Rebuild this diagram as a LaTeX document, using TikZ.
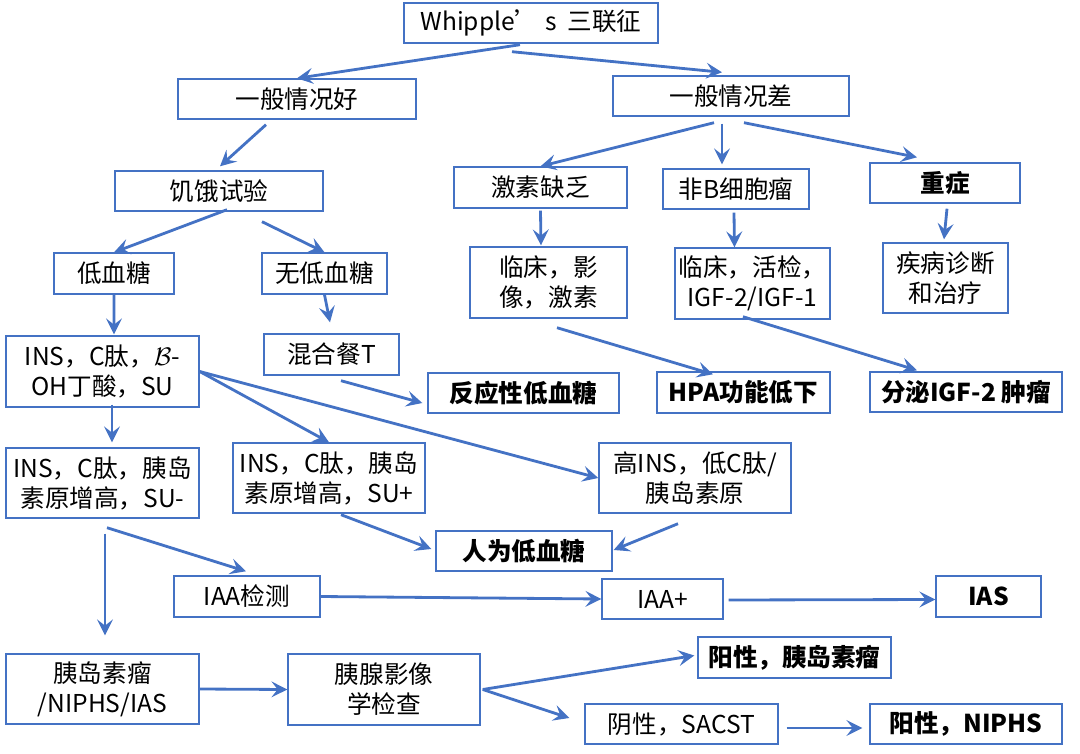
\documentclass[tikz,border=0pt]{standalone}
\usepackage{fontspec}
\setmainfont{Noto Sans CJK SC}
\usetikzlibrary{arrows.meta,calc}
\definecolor{lineblue}{HTML}{4472C4}
\tikzset{Box/.style={draw=lineblue,line width=0.8pt,inner sep=0pt,align=center,font=\fontsize{14}{17}\selectfont},
  Bold/.style={Box,font=\fontsize{14}{17}\selectfont\bfseries},
  sz/.style 2 args={minimum width=#1*0.02cm,minimum height=#2*0.02cm},
  Arr/.style={draw=lineblue,line width=1.6pt,-{Stealth[length=9pt,width=9pt,inset=3.5pt]}}}

\begin{document}
\begin{tikzpicture}[x=0.02cm,y=-0.02cm]
    \useasboundingbox (0,0) rectangle (1080,754);
    % top levels
    \node[Box,sz={254}{40}] (whip) at (531,23) {Whipple’ s \ 三联征};
    \node[Box,sz={238}{40}] (good) at (297,99) {一般情况好};
    \node[Box,sz={236}{40}] (poor) at (731,96) {一般情况差};
    \node[Box,sz={208}{40}] (fast) at (219,191) {饥饿试验};
    \node[Box,sz={173}{41}] (horm) at (540.5,187.5) {激素缺乏};
    \node[Box,sz={146}{40}] (nonb) at (736,189) {非B细胞瘤};
    \node[Bold,sz={150}{40}] (severe) at (945,183) {重症};
    \node[Box,sz={120}{41}] (hypo) at (114,273.5) {低血糖};
    \node[Box,sz={125}{41}] (nohypo) at (324.5,273.5) {无低血糖};
    \node[Box,sz={157}{71}] (clin1) at (548.5,282.5) {临床，影\\像，激素};
    \node[Box,sz={155}{71}] (clin2) at (752.5,283.5) {临床，活检，\\IGF-2/IGF-1};
    \node[Box,sz={125}{70}] (disease) at (945.5,278) {疾病诊断\\和治疗};
    \node[Box,sz={193}{71}] (ins1) at (102.5,371.5) {INS，C肽，$\mathcal{B}$-\\OH丁酸，SU};
    \node[Box,sz={135}{41}] (meal) at (331.5,354.5) {混合餐T};
    \node[Bold,sz={191}{40}] (react) at (523.5,393) {反应性低血糖};
    \node[Bold,sz={173}{41}] (hpa) at (743.5,392.5) {HPA功能低下};
    \node[Bold,sz={192}{40}] (igf) at (966,392) {分泌IGF-2 肿瘤};
    \node[Box,sz={193}{70}] (ins2) at (102.5,483) {INS，C肽，胰岛\\素原增高，SU-};
    \node[Box,sz={192}{70}] (ins3) at (329,478) {INS，C肽，胰岛\\素原增高，SU+};
    \node[Box,sz={192}{70}] (highins) at (695,478) {高INS，低C肽/\\胰岛素原};
    \node[Bold,sz={176}{40}] (fact) at (524,551) {人为低血糖};
    \node[Box,sz={146}{41}] (iaa) at (247,596.5) {IAA检测};
    \node[Box,sz={121}{40}] (iaap) at (662.5,599) {IAA+};
    \node[Bold,sz={105}{41}] (ias) at (988.5,596.5) {IAS};
    \node[Box,sz={193}{70}] (tumor) at (102.5,689) {胰岛素瘤\\/NIPHS/IAS};
    \node[Box,sz={192}{71}] (panc) at (384,689.5) {胰腺影像\\学检查};
    \node[Bold,sz={193}{41}] (posins) at (794.5,657.5) {阳性，胰岛素瘤};
    \node[Box,sz={193}{40}] (neg) at (681.5,724) {阴性，SACST};
    \node[Bold,sz={192}{40}] (posni) at (966,724) {阳性，NIPHS};
    % connectors
    \begin{scope}[Arr]
      \draw ($(whip.south)+(-11,1)$) -- (good.north);
      \draw ($(whip.south)+(-19,8)$) -- ($(poor.north)+(-9,-3)$);
      \draw ($(good.south)+(-31,5)$) -- ($(fast.north)+(1,-4)$);
      \draw ($(fast.south)+(8,-2)$) -- (hypo.north);
      \draw ($(fast.south)+(43,10)$) -- (nohypo.north);
      \draw ($(poor.south)+(-17,6)$) -- (horm.north);
      \draw ($(poor.south)+(-9,7)$) -- ($(nonb.north)+(-14,-4)$);
      \draw ($(poor.south)+(13,6)$) -- ($(severe.north)+(-28,-5)$);
      \draw (hypo.south) -- ($(ins1.north)+(11.5,-1)$);
      \draw (nohypo.south) -- ($(meal.north)+(-1.5,-11)$);
      \draw ($(horm.south)+(0,2)$) -- ($(clin1.north)+(-7.5,-1)$);
      \draw ($(nonb.south)+(-2,3)$) -- ($(clin2.north)+(-18,0)$);
      \draw ($(severe.south)+(2,5)$) -- ($(disease.north)+(-1.5,-3)$);
      \draw ($(ins1.south)+(9.5,-3)$) -- ($(ins2.north)+(9.5,-5)$);
      \draw (ins1.east) -- (ins3.north);
      \draw (ins1.east) -- (highins.west);
      \draw ($(meal.south)+(9.5,5)$) -- ($(react.west)+(-5,10)$);
      \draw ($(clin1.south)+(8.5,9)$) -- ($(hpa.north)+(-30.5,3)$);
      \draw ($(clin2.south)+(-9.5,-3)$) -- ($(igf.north)+(-49,-1)$);
      \draw ($(ins3.south)+(12,1)$) -- ($(fact.west)+(-4,-2)$);
      \draw ($(highins.south)+(-17,10)$) -- ($(fact.east)+(1,-1)$);
      \draw ($(ins2.south)+(4.5,9)$) -- ($(iaa.north)+(-1,-4)$);
      \draw ($(ins2.south)+(2.5,15)$) -- ($(tumor.north)+(2.5,-18)$);
      \draw (iaa.east) -- (iaap.west);
      \draw ($(iaap.east)+(5,1)$) -- ($(ias.west)+(0,3)$);
      \draw (tumor.east) -- (panc.west);
      \draw ($(panc.east)+(2,0)$) -- ($(posins.west)+(-3,-2)$);
      \draw ($(panc.east)+(2,0)$) -- ($(neg.west)+(-15,-6)$);
      \draw ($(neg.east)+(8,4)$) -- ($(posni.west)+(-7,4)$);
    \end{scope}
\end{tikzpicture}
\end{document}
